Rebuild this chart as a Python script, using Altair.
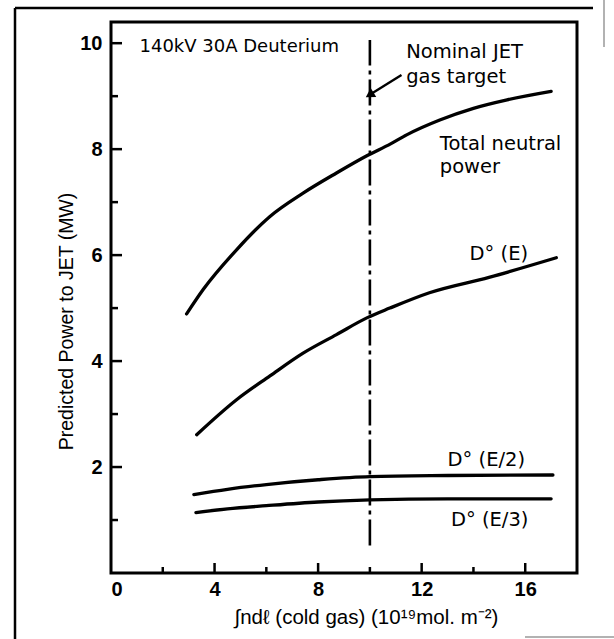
import altair as alt
import pandas as pd

# ---- data ----
total_x = [2.92, 3.56, 4.85, 6.14, 7.42, 8.71, 9.9, 10.8, 11.42, 12.7, 14.0, 15.3, 17.0]
total_y = [4.89, 5.35, 6.10, 6.73, 7.17, 7.55, 7.88, 8.10, 8.27, 8.55, 8.77, 8.93, 9.09]
e_x = [3.31, 4.85, 6.14, 7.42, 8.71, 9.9, 10.77, 12.3, 14.6, 17.2]
e_y = [2.61, 3.27, 3.72, 4.15, 4.50, 4.82, 5.00, 5.29, 5.58, 5.95]
e2_x = [3.2, 4.5, 6.0, 8.0, 10.0, 13.0, 17.07]
e2_y = [1.48, 1.58, 1.67, 1.76, 1.82, 1.84, 1.85]
e3_x = [3.28, 4.5, 6.0, 8.0, 10.0, 13.0, 17.0]
e3_y = [1.14, 1.21, 1.27, 1.34, 1.38, 1.40, 1.40]

x_label_values = [0, 4, 8, 12, 16]
y_label_values = [2, 4, 6, 8, 10]
x_major_ticks = [4, 8, 12, 16]
x_minor_ticks = [2, 6, 10, 14]
y_major_ticks = [2, 4, 6, 8, 10]
y_minor_ticks = [1, 3, 5, 7, 9]

target_x = [10.0]
target_y0 = [0.52]
target_y1 = [10.06]

annot_text = ["140kV 30A Deuterium", "Nominal JET", "gas target", "Total neutral",
              "power", "D\u00b0 (E)", "D\u00b0 (E/2)", "D\u00b0 (E/3)"]
annot_x = [1.1, 11.4, 11.4, 12.7, 12.7, 13.85, 13.0, 13.13]
annot_y = [9.93, 9.84, 9.36, 8.10, 7.67, 6.03, 2.14, 1.00]
annot_size = [18, 19.5, 19.5, 19.5, 19.5, 19.5, 19.5, 19.5]

arrow_x = [11.22, 10.04]
arrow_y = [9.40, 9.04]

X_DOMAIN = [0, 18]
Y_DOMAIN = [0, 10.4]
W, H = 466, 551
FONT = "Liberation Sans"
AFONT = "DejaVu Sans"

rows = []
for name, xs, ys in [("total", total_x, total_y), ("E", e_x, e_y),
                     ("E2", e2_x, e2_y), ("E3", e3_x, e3_y)]:
    for a, b in zip(xs, ys):
        rows.append({"x": a, "y": b, "series": name})
curves = pd.DataFrame(rows)

xs = alt.Scale(domain=X_DOMAIN, nice=False, zero=False)
ys = alt.Scale(domain=Y_DOMAIN, nice=False, zero=False)

x_axis = alt.Axis(values=x_label_values, ticks=False, domain=False, grid=False,
                  labelFont=FONT, labelFontSize=20, labelFontWeight="bold",
                  labelColor="black", labelPadding=6,
                  title="\u222bnd\u2113 (cold gas) (10\u00b9\u2079mol. m\u207b\u00b2)",
                  titleFont=FONT, titleFontSize=20.5, titleFontWeight="normal",
                  titleColor="black", titlePadding=8, titleX=255, titleAlign="center")
y_axis = alt.Axis(values=y_label_values, ticks=False, domain=False, grid=False,
                  labelFont=FONT, labelFontSize=20, labelFontWeight="bold",
                  labelColor="black", labelPadding=9,
                  title="Predicted Power to JET (MW)",
                  titleFont=FONT, titleFontSize=19.5, titleFontWeight="normal",
                  titleColor="black", titlePadding=3, titleY=299)

lines = alt.Chart(curves).mark_line(color="black", strokeWidth=3.3,
                                    interpolate="monotone", strokeCap="round").encode(
    x=alt.X("x:Q", scale=xs, axis=x_axis),
    y=alt.Y("y:Q", scale=ys, axis=y_axis),
    detail="series:N",
)

target = alt.Chart(pd.DataFrame({"x": target_x, "y": target_y0, "y2": target_y1})).mark_rule(
    color="black", strokeWidth=2.6, strokeDash=[26, 5, 4, 5]).encode(
    x=alt.X("x:Q", scale=xs), y=alt.Y("y:Q", scale=ys), y2="y2:Q")

def yticks(vals, length):
    return alt.Chart(pd.DataFrame({"v": vals})).mark_rule(color="black", strokeWidth=2.5).encode(
        y=alt.Y("v:Q", scale=ys), x=alt.value(0), x2=alt.value(length))

def xticks(vals, length):
    return alt.Chart(pd.DataFrame({"v": vals})).mark_rule(color="black", strokeWidth=2.5).encode(
        x=alt.X("v:Q", scale=xs), y=alt.value(H), y2=alt.value(H - length))

annots = alt.Chart(pd.DataFrame({"t": annot_text, "x": annot_x, "y": annot_y,
                                 "s": annot_size})).mark_text(
    font=AFONT, color="black", align="left", baseline="middle").encode(
    x=alt.X("x:Q", scale=xs), y=alt.Y("y:Q", scale=ys), text="t:N",
    size=alt.Size("s:Q", scale=None, legend=None))

arrow_line = alt.Chart(pd.DataFrame({"x": arrow_x, "y": arrow_y, "o": [0, 1]})).mark_line(
    color="black", strokeWidth=2.4).encode(
    x=alt.X("x:Q", scale=xs), y=alt.Y("y:Q", scale=ys), order="o:Q")
arrow_head = alt.Chart(pd.DataFrame({"x": arrow_x[1:], "y": arrow_y[1:]})).mark_point(
    shape="triangle", angle=238, size=110, filled=True, color="black", opacity=1).encode(
    x=alt.X("x:Q", scale=xs), y=alt.Y("y:Q", scale=ys))

# scanned figure border (decoration outside the plot area)
frame_left = alt.Chart(pd.DataFrame({"a": [0]})).mark_rule(color="black", strokeWidth=2.5).encode(
    x=alt.value(-96), y=alt.value(-14), y2=alt.value(620))
frame_top = alt.Chart(pd.DataFrame({"a": [0]})).mark_rule(color="black", strokeWidth=2.5).encode(
    x=alt.value(-96), x2=alt.value(482), y=alt.value(-14))
frame_right = alt.Chart(pd.DataFrame({"a": [0]})).mark_rule(color="#999999", strokeWidth=1.5).encode(
    x=alt.value(493), y=alt.value(-22), y2=alt.value(25))
frame_bottom = alt.Chart(pd.DataFrame({"a": [0]})).mark_rule(color="#999999", strokeWidth=1.5).encode(
    x=alt.value(414), x2=alt.value(503), y=alt.value(615))

chart = alt.layer(
    lines, target,
    yticks(y_major_ticks, 11), yticks(y_minor_ticks, 7),
    xticks(x_major_ticks, 10), xticks(x_minor_ticks, 6),
    annots, arrow_line, arrow_head,
    frame_left, frame_top, frame_right, frame_bottom,
).properties(
    width=W, height=H,
    autosize=alt.AutoSizeParams(type="none"),
    padding={"left": 111, "top": 22, "right": 37, "bottom": 66},
    background="white",
).configure_view(stroke="black", strokeWidth=3)

chart.save("out.html", embed_options={"renderer": "svg", "actions": False})
